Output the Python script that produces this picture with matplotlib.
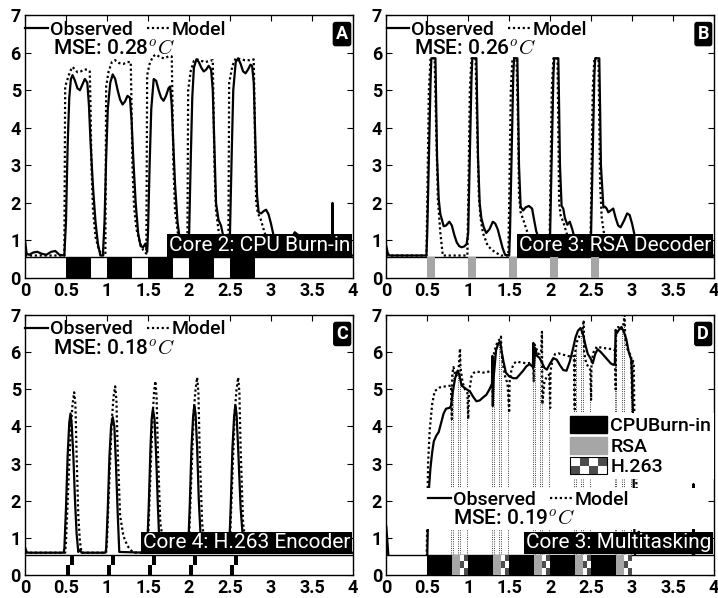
import matplotlib
matplotlib.use("Agg")
import matplotlib.pyplot as plt
from matplotlib.patches import Rectangle, Patch
from matplotlib.lines import Line2D
from matplotlib.legend_handler import HandlerBase
from matplotlib.transforms import blended_transform_factory

plt.rcParams["font.family"] = ["Roboto", "DejaVu Sans"]
plt.rcParams["mathtext.fontset"] = "cm"

# ---- data -------------------------------------------------------------
x_ticks = [0, 0.5, 1, 1.5, 2, 2.5, 3, 3.5, 4]
x_labels = ["0", "0.5", "1", "1.5", "2", "2.5", "3", "3.5", "4"]
y_ticks = [0, 1, 2, 3, 4, 5, 6, 7]

# panel A: core 2, CPU burn-in
obsA_t = [0.00, 0.02, 0.05, 0.10, 0.15, 0.20, 0.26, 0.32, 0.37, 0.42, 0.48,
          0.50, 0.52, 0.54, 0.56, 0.58, 0.61, 0.64, 0.67, 0.70, 0.73, 0.76, 0.78, 0.80, 0.83, 0.86, 0.89, 0.92,
          0.95, 0.97, 0.99, 1.01, 1.04, 1.07, 1.10, 1.13, 1.16, 1.19, 1.22, 1.25, 1.28, 1.30, 1.32, 1.35, 1.38, 1.41, 1.44, 1.47, 1.49,
          1.50, 1.52, 1.54, 1.57, 1.60, 1.63, 1.66, 1.69, 1.72, 1.75, 1.77, 1.79, 1.81, 1.83, 1.86, 1.89, 1.93, 1.97,
          2.00, 2.02, 2.04, 2.06, 2.09, 2.12, 2.15, 2.18, 2.21, 2.24, 2.27, 2.29, 2.31, 2.33, 2.36, 2.39, 2.42, 2.45, 2.48,
          2.50, 2.52, 2.54, 2.57, 2.60, 2.63, 2.66, 2.69, 2.72, 2.75, 2.77, 2.79, 2.81, 2.83, 2.85, 2.88, 2.91, 2.94, 2.97, 3.00, 3.03, 3.06, 3.10, 3.15,
          3.20, 3.25, 3.29, 3.33, 3.40, 3.50, 3.70, 3.745, 3.75, 3.755, 4.00]
obsA_y = [1.00, 0.65, 0.62, 0.68, 0.70, 0.65, 0.62, 0.70, 0.72, 0.62, 0.60,
          1.50, 3.50, 4.80, 5.30, 5.40, 5.25, 5.05, 5.00, 5.15, 5.30, 5.20, 4.60, 3.60, 2.40, 1.50, 0.90, 0.60,
          0.60, 1.50, 3.20, 4.50, 5.20, 5.42, 5.30, 5.00, 4.75, 4.62, 4.70, 4.85, 4.80, 4.20, 3.20, 2.00, 1.20, 0.85, 0.82, 0.92, 0.70,
          1.20, 3.00, 4.50, 5.30, 5.25, 5.00, 4.80, 4.72, 4.85, 5.05, 5.10, 4.60, 3.50, 2.50, 1.50, 1.00, 0.70, 0.60,
          1.00, 3.00, 4.80, 5.60, 5.82, 5.75, 5.60, 5.50, 5.55, 5.65, 5.55, 5.00, 3.50, 2.00, 1.55, 1.40, 1.10, 0.80, 0.70,
          1.20, 3.20, 5.00, 5.75, 5.85, 5.70, 5.50, 5.45, 5.55, 5.68, 5.65, 5.20, 3.60, 2.20, 1.75, 1.72, 1.78, 1.82, 1.70, 1.45, 1.15, 0.90, 0.70, 0.60,
          0.80, 1.05, 1.22, 1.15, 0.90, 0.70, 0.60, 0.60, 2.00, 0.60, 0.60]
modA_t = [0.00, 0.48, 0.49, 0.52, 0.55, 0.58, 0.61, 0.64, 0.68, 0.72, 0.76, 0.79, 0.80, 0.81, 0.83, 0.86, 0.90, 0.94, 0.98,
          0.99, 1.02, 1.06, 1.10, 1.15, 1.20, 1.25, 1.29, 1.30, 1.31, 1.33, 1.36, 1.40, 1.44, 1.48,
          1.49, 1.52, 1.56, 1.60, 1.65, 1.70, 1.75, 1.79, 1.80, 1.81, 1.83, 1.87, 1.92, 1.98,
          1.99, 2.02, 2.06, 2.10, 2.15, 2.20, 2.25, 2.29, 2.30, 2.31, 2.33, 2.37, 2.42, 2.48,
          2.49, 2.53, 2.57, 2.62, 2.68, 2.74, 2.79, 2.80, 2.81, 2.82, 2.84, 2.87, 2.91, 2.96, 3.02, 3.10, 4.00]
modA_y = [0.60, 0.60, 5.10, 5.30, 5.50, 5.62, 5.55, 5.48, 5.50, 5.55, 5.55, 5.50, 4.50, 3.00, 1.80, 1.10, 0.75, 0.62, 0.60,
          5.10, 5.50, 5.75, 5.80, 5.72, 5.70, 5.75, 5.75, 4.50, 3.00, 1.90, 1.30, 0.95, 0.75, 0.65,
          5.40, 5.70, 5.90, 5.95, 5.87, 5.85, 5.90, 5.90, 4.50, 3.00, 1.80, 1.10, 0.75, 0.60,
          5.00, 5.50, 5.78, 5.82, 5.78, 5.75, 5.78, 5.80, 4.50, 3.00, 1.80, 1.10, 0.75, 0.60,
          5.20, 5.65, 5.85, 5.83, 5.80, 5.80, 5.82, 4.50, 3.00, 2.00, 1.72, 1.60, 1.30, 0.95, 0.70, 0.60, 0.60]

# panel B: core 3, RSA decoder
obsB_t = [0.00, 0.02, 0.04, 0.49,
          0.50, 0.52, 0.54, 0.55, 0.60, 0.61, 0.62, 0.64, 0.66, 0.68, 0.70, 0.73, 0.77, 0.80, 0.83, 0.86, 0.89, 0.92, 0.95, 0.98,
          1.00, 1.02, 1.04, 1.05, 1.10, 1.11, 1.12, 1.14, 1.16, 1.19, 1.22, 1.26, 1.30, 1.33, 1.36, 1.39, 1.42, 1.45, 1.50,
          1.51, 1.53, 1.55, 1.56, 1.60, 1.61, 1.62, 1.64, 1.67, 1.70, 1.74, 1.78, 1.80, 1.83, 1.87, 1.92, 1.99,
          2.00, 2.02, 2.04, 2.05, 2.10, 2.11, 2.12, 2.14, 2.16, 2.18, 2.21, 2.24, 2.27, 2.30, 2.35, 2.42, 2.49,
          2.50, 2.52, 2.54, 2.55, 2.60, 2.61, 2.62, 2.65, 2.67, 2.69, 2.71, 2.74, 2.77, 2.80, 2.83, 2.86, 2.90, 2.94, 2.97, 3.00, 3.03, 3.07, 3.12, 4.00]
obsB_y = [0.85, 0.65, 0.60, 0.60,
          1.20, 3.20, 5.20, 5.85, 5.85, 4.50, 3.20, 2.10, 1.70, 1.55, 1.38, 1.40, 1.50, 1.40, 1.15, 0.95, 0.85, 0.82, 0.84, 0.90,
          1.20, 3.30, 5.30, 5.85, 5.85, 4.50, 3.20, 2.00, 1.60, 1.35, 1.20, 1.30, 1.50, 1.45, 1.30, 1.05, 0.80, 0.62, 0.60,
          1.20, 3.30, 5.40, 5.85, 5.85, 4.50, 3.00, 1.90, 1.80, 1.88, 1.92, 1.85, 1.60, 1.25, 1.00, 0.80, 0.70,
          1.20, 3.30, 5.40, 5.85, 5.85, 4.50, 3.00, 1.92, 1.85, 1.60, 1.42, 1.50, 1.30, 1.05, 0.85, 0.75, 0.70,
          1.20, 3.30, 5.40, 5.85, 5.85, 4.50, 3.00, 1.88, 1.90, 1.85, 1.75, 1.80, 1.85, 1.60, 1.40, 1.35, 1.52, 1.72, 1.68, 1.45, 1.15, 0.80, 0.60, 0.60]
modB_t = [0.00, 0.49, 0.50, 0.52, 0.54, 0.59, 0.61, 0.63, 0.66, 0.69,
          0.99, 1.00, 1.02, 1.04, 1.09, 1.11, 1.13, 1.15, 1.18, 1.24, 1.32, 1.40,
          1.49, 1.50, 1.52, 1.54, 1.59, 1.61, 1.62, 1.64, 1.68, 1.74, 1.80, 1.88,
          1.99, 2.00, 2.02, 2.04, 2.09, 2.11, 2.13, 2.16, 2.20, 2.28, 2.40,
          2.49, 2.50, 2.52, 2.54, 2.59, 2.61, 2.63, 2.66, 2.72, 2.80, 4.00]
modB_y = [0.60, 0.60, 2.00, 5.00, 5.85, 5.85, 3.85, 2.10, 1.20, 0.60,
          0.60, 2.00, 5.00, 5.85, 5.85, 3.90, 2.20, 1.60, 1.20, 0.85, 0.70, 0.60,
          0.60, 2.00, 5.00, 5.85, 5.85, 3.90, 2.20, 1.75, 1.50, 1.10, 0.80, 0.60,
          0.60, 2.00, 5.00, 5.85, 5.85, 2.00, 1.65, 1.50, 1.20, 0.80, 0.60,
          0.60, 2.00, 5.00, 5.85, 5.85, 2.50, 1.60, 1.15, 0.80, 0.60, 0.60]

# panel C: core 4, H.263 encoder
obsC_t = [0.00, 0.02, 0.04, 0.47,
          0.48, 0.50, 0.52, 0.54, 0.555, 0.57, 0.59, 0.61, 0.63, 0.65, 0.67, 0.69, 0.98,
          0.99, 1.01, 1.03, 1.05, 1.07, 1.09, 1.11, 1.13, 1.15, 1.48,
          1.49, 1.51, 1.53, 1.545, 1.56, 1.58, 1.60, 1.62, 1.64, 1.98,
          1.99, 2.01, 2.03, 2.05, 2.065, 2.08, 2.10, 2.12, 2.15, 2.48,
          2.49, 2.51, 2.53, 2.55, 2.565, 2.58, 2.60, 2.63, 2.67, 4.00]
obsC_y = [0.75, 0.62, 0.60, 0.60,
          0.70, 1.80, 3.20, 4.10, 4.35, 4.05, 3.20, 2.00, 1.10, 0.62, 0.68, 0.60, 0.60,
          0.70, 1.80, 3.20, 4.00, 4.25, 4.00, 2.95, 1.70, 0.62, 0.60,
          0.70, 1.90, 3.40, 4.20, 4.47, 4.20, 3.20, 1.90, 0.80, 0.60,
          0.70, 1.90, 3.40, 4.25, 4.55, 4.35, 3.40, 2.00, 0.70, 0.60,
          0.70, 1.90, 3.40, 4.25, 4.55, 4.35, 3.40, 1.80, 0.62, 0.60]
modC_t = [0.00, 0.49,
          0.50, 0.53, 0.56, 0.58, 0.60, 0.615, 0.63, 0.65, 0.67, 0.69, 0.99,
          1.00, 1.03, 1.06, 1.08, 1.10, 1.115, 1.13, 1.16, 1.20, 1.25, 1.30, 1.34, 1.49,
          1.50, 1.53, 1.56, 1.575, 1.59, 1.605, 1.62, 1.65, 1.70, 1.99,
          2.00, 2.03, 2.06, 2.08, 2.10, 2.115, 2.13, 2.16, 2.20, 2.49,
          2.50, 2.53, 2.56, 2.58, 2.60, 2.615, 2.63, 2.66, 2.70, 4.00]
modC_y = [0.60, 0.60,
          0.90, 2.50, 4.00, 4.60, 4.92, 4.60, 3.20, 1.60, 0.90, 0.60, 0.60,
          0.90, 2.60, 4.20, 4.80, 5.08, 4.70, 3.40, 1.60, 1.05, 0.78, 0.65, 0.60, 0.60,
          0.90, 2.70, 4.40, 4.95, 5.22, 4.80, 3.40, 1.40, 0.70, 0.60,
          0.90, 2.70, 4.45, 5.00, 5.32, 4.90, 3.40, 1.40, 0.70, 0.60,
          0.90, 2.70, 4.45, 5.00, 5.32, 4.90, 3.40, 1.40, 0.70, 0.60]

# panel D: core 3, multitasking
obsD_t = [0.00, 0.02, 0.04, 0.10, 0.49,
          0.50, 0.51, 0.52, 0.54, 0.56, 0.58, 0.61, 0.64, 0.67, 0.70, 0.73, 0.77, 0.79,
          0.81, 0.84, 0.87, 0.89, 0.92, 0.95, 0.98, 1.02, 1.06, 1.10, 1.14, 1.18, 1.22, 1.26, 1.29,
          1.295, 1.30, 1.31, 1.34, 1.37, 1.39, 1.41, 1.43, 1.46, 1.50, 1.55, 1.59, 1.63, 1.67, 1.71, 1.75, 1.79,
          1.795, 1.80, 1.82, 1.84, 1.87, 1.90, 1.93, 1.96, 2.00, 2.04, 2.08, 2.12, 2.16, 2.20,
          2.24, 2.28, 2.31, 2.34, 2.37, 2.40, 2.43, 2.46, 2.49, 2.52, 2.55, 2.58, 2.62, 2.66, 2.70, 2.74, 2.77, 2.79,
          2.80, 2.81, 2.84, 2.87, 2.90, 2.93, 2.96, 2.99, 3.00, 3.01, 3.02, 3.03, 3.05,
          3.74, 3.75, 3.76, 4.00]
obsD_y = [1.30, 0.70, 0.05, 0.00, 0.00,
          0.50, 1.60, 2.30, 2.90, 3.30, 3.60, 3.75, 3.85, 4.10, 4.35, 4.48, 4.50, 4.55,
          4.90, 5.30, 5.50, 5.40, 5.10, 5.05, 5.00, 4.95, 4.80, 4.68, 4.70, 4.78, 4.85, 5.00, 5.15,
          5.90, 4.55, 5.30, 6.05, 6.25, 6.28, 6.00, 5.75, 5.45, 5.35, 5.30, 5.30, 5.40, 5.50, 5.62, 5.68, 5.60,
          6.25, 5.60, 6.10, 5.90, 5.85, 5.72, 5.58, 5.53, 5.70, 5.84, 5.80, 5.65, 5.52, 5.50,
          5.75, 6.10, 6.40, 6.58, 6.65, 6.50, 6.20, 5.95, 5.85, 5.70, 5.95, 6.08, 6.00, 5.90, 5.80, 5.70, 5.66, 5.70,
          6.60, 6.50, 6.60, 6.68, 6.55, 6.35, 6.00, 5.80, 5.30, 4.40, 2.50, 0.80, 0.00,
          0.00, 2.45, 0.00, 0.00]
modD_t = [0.00, 0.49, 0.50, 0.51, 0.53, 0.56, 0.59, 0.65, 0.72, 0.79,
          0.80, 0.805, 0.82, 0.85, 0.88, 0.90, 0.905, 0.93, 0.96, 0.99, 1.00, 1.01, 1.04, 1.07, 1.10, 1.18, 1.26, 1.29,
          1.30, 1.305, 1.33, 1.36, 1.39, 1.40, 1.405, 1.43, 1.45, 1.48, 1.50, 1.505, 1.53, 1.56, 1.59, 1.65, 1.72, 1.79,
          1.80, 1.805, 1.83, 1.86, 1.89, 1.90, 1.905, 1.93, 1.96, 1.99, 2.00, 2.005, 2.03, 2.06, 2.10, 2.18, 2.25, 2.29,
          2.30, 2.305, 2.33, 2.36, 2.39, 2.41, 2.415, 2.44, 2.47, 2.49, 2.50, 2.505, 2.53, 2.57, 2.63, 2.70, 2.76, 2.79,
          2.80, 2.805, 2.83, 2.86, 2.89, 2.91, 2.915, 2.94, 2.97, 2.99, 3.00, 3.005, 3.02, 3.03, 3.06, 3.10, 3.15, 4.00]
modD_y = [0.00, 0.00, 1.50, 3.00, 3.90, 4.60, 4.95, 5.05, 5.08, 5.10,
          4.20, 5.40, 5.60, 5.35, 5.45, 6.10, 5.60, 5.20, 5.00, 4.90, 4.20, 4.90, 5.35, 5.45, 5.48, 5.45, 5.48, 5.50,
          4.80, 5.88, 6.10, 6.30, 6.35, 6.42, 6.00, 5.60, 5.35, 5.15, 4.37, 5.20, 5.55, 5.70, 5.75, 5.72, 5.70, 5.72,
          5.20, 6.24, 6.10, 5.95, 6.00, 6.55, 4.60, 5.20, 5.35, 5.40, 4.50, 5.50, 5.80, 5.95, 5.97, 5.92, 5.88, 5.90,
          4.46, 6.00, 6.30, 6.45, 6.50, 6.86, 6.00, 5.70, 5.60, 5.53, 4.72, 5.70, 6.00, 6.15, 6.12, 6.10, 6.08, 6.06,
          5.00, 6.50, 6.68, 6.60, 6.70, 7.00, 6.40, 6.10, 5.97, 5.90, 4.72, 5.80, 5.70, 4.00, 2.00, 0.50, 0.00, 0.00]
# task switch markers in D (thin dotted verticals)
switchD_t = [0.79, 0.81, 0.88, 0.90, 0.99, 1.29, 1.31, 1.38, 1.40, 1.49, 1.79, 1.81, 1.88, 1.90, 1.99,
             2.29, 2.31, 2.38, 2.40, 2.49, 2.79, 2.81, 2.88, 2.90, 2.99]
switchD_top = [5.1, 5.6, 5.45, 6.1, 4.9, 5.5, 6.0, 6.35, 6.42, 5.15, 5.72, 6.2, 6.0, 6.55, 5.4,
               5.9, 6.1, 6.5, 6.86, 5.53, 6.06, 6.6, 6.7, 7.0, 5.9]

# task schedule (start times, durations)
cpu_start = [0.5, 1.0, 1.5, 2.0, 2.5]
cpu_dur = 0.3
rsa_start = [0.5, 1.0, 1.5, 2.0, 2.5]
rsa_dur = 0.1
h263_start = [0.5, 1.0, 1.5, 2.0, 2.5]
h263_dur = 0.1
mix_cpu_start = [0.5, 1.0, 1.5, 2.0, 2.5]
mix_rsa_start = [0.8, 1.3, 1.8, 2.3, 2.8]
mix_h263_start = [0.9, 1.4, 1.9, 2.4, 2.9]

panel_letters = ["A", "B", "C", "D"]
core_labels = ["Core 2: CPU Burn-in", "Core 3: RSA Decoder",
               "Core 4: H.263 Encoder", "Core 3: Multitasking"]
mse_values = ["0.28", "0.26", "0.18", "0.19"]

# ---- style --------------------------------------------------------------
STRIP = 0.55
GRAY = "#a6a6a6"
DARK = "#4d4d4d"
FS = 14
DOT = (0, (1, 1.2))


class CheckerHandler(HandlerBase):
    def create_artists(self, legend, orig_handle, xdescent, ydescent,
                       width, height, fontsize, trans):
        arts = []
        cw, ch = width / 4, height / 2
        for i in range(4):
            for j in range(2):
                fc = DARK if (i + j) % 2 == 0 else "white"
                arts.append(Rectangle((-xdescent + i * cw, -ydescent + j * ch), cw, ch,
                                      fc=fc, ec="none", transform=trans))
        arts.append(Rectangle((-xdescent, -ydescent), width, height, fc="none",
                              ec="black", lw=0.8, transform=trans))
        return arts


def setup(ax):
    ax.set_xlim(0, 4)
    ax.set_ylim(0, 7)
    ax.set_xticks(x_ticks)
    ax.set_xticklabels(x_labels)
    ax.set_yticks(y_ticks)
    ax.tick_params(direction="in", top=True, right=True, length=4, width=0.8,
                   labelsize=13)
    ax.tick_params(axis="x", pad=3)
    ax.tick_params(axis="y", pad=3)
    for lab in ax.get_xticklabels() + ax.get_yticklabels():
        lab.set_fontweight("bold")
    for s in ax.spines.values():
        s.set_linewidth(1.0)


def strip(ax):
    ax.add_patch(Rectangle((0, 0), 4, STRIP, fc="white", ec="black", lw=1.0, zorder=3))


def checker(ax, starts, dur, nx, ny, color, dark_parity):
    cw, ch = dur / nx, STRIP / ny
    for s in starts:
        for i in range(nx):
            for j in range(ny):
                if (i + j) % 2 == dark_parity:
                    ax.bar(s + i * cw, ch, width=cw, bottom=j * ch, align="edge",
                           color=color, lw=0, zorder=3.2)


def decorate(ax, k, legend_anchor=(-0.005, 0.945), mse_xy=(0.086, 0.872)):
    handles = [Line2D([], [], color="k", lw=1.6),
               Line2D([], [], color="k", lw=1.6, ls=DOT)]
    leg = ax.legend(handles, ["Observed", "Model"], ncol=2, loc="center left",
                    bbox_to_anchor=legend_anchor, frameon=False,
                    prop={"size": FS, "weight": "medium"},
                    handlelength=1.15, handletextpad=0.1, columnspacing=0.75,
                    borderpad=0.1, borderaxespad=0)
    ax.text(mse_xy[0], mse_xy[1], "MSE: " + mse_values[k] + r"$^oC$",
            transform=ax.transAxes, fontsize=15, fontweight="medium", va="center", zorder=6)
    tr = blended_transform_factory(ax.transAxes, ax.transData)
    ax.text(0.992, STRIP + 0.06, core_labels[k], transform=tr, ha="right", va="bottom",
            color="white", fontsize=15, zorder=7,
            bbox=dict(boxstyle="square,pad=0.08", fc="black", ec="none"))
    ax.text(0.985, 0.962, panel_letters[k], transform=ax.transAxes, ha="right", va="top",
            color="white", fontsize=13, fontweight="bold", zorder=7,
            bbox=dict(boxstyle="round,pad=0.18,rounding_size=0.15", fc="black", ec="none"))
    return leg


fig = plt.figure(figsize=(7.18, 5.98), dpi=100)
axA = fig.add_axes([0.0348, 0.535, 0.4568, 0.4398])
axB = fig.add_axes([0.538, 0.535, 0.4564, 0.4398])
axC = fig.add_axes([0.0348, 0.0385, 0.4568, 0.4346])
axD = fig.add_axes([0.538, 0.0385, 0.4564, 0.4346])

for ax in (axA, axB, axC, axD):
    setup(ax)
    strip(ax)

# A
axA.plot(obsA_t, obsA_y, color="k", lw=1.6, zorder=2)
axA.plot(modA_t, modA_y, color="k", lw=1.6, ls=DOT, zorder=2.1)
axA.broken_barh([(s, cpu_dur) for s in cpu_start], (0, STRIP), facecolors="black", zorder=3.2)
decorate(axA, 0)

# B
axB.plot(obsB_t, obsB_y, color="k", lw=1.6, zorder=2)
axB.plot(modB_t, modB_y, color="k", lw=1.6, ls=DOT, zorder=2.1)
axB.broken_barh([(s, rsa_dur) for s in rsa_start], (0, STRIP), facecolors=GRAY, zorder=3.2)
decorate(axB, 1)

# C
axC.plot(obsC_t, obsC_y, color="k", lw=1.6, zorder=2)
axC.plot(modC_t, modC_y, color="k", lw=1.6, ls=DOT, zorder=2.1)
checker(axC, h263_start, h263_dur, 2, 2, "black", 0)
decorate(axC, 2)

# D
axD.vlines(switchD_t, STRIP, switchD_top, colors="k", lw=0.6, linestyles=":", zorder=1.5)
axD.plot(obsD_t, obsD_y, color="k", lw=1.6, zorder=2)
axD.plot(modD_t, modD_y, color="k", lw=1.6, ls=DOT, zorder=2.1)
axD.broken_barh([(s, cpu_dur) for s in mix_cpu_start], (0, STRIP), facecolors="black", zorder=3.2)
axD.broken_barh([(s, rsa_dur) for s in mix_rsa_start], (0, STRIP), facecolors=GRAY, zorder=3.2)
axD.broken_barh([(s, h263_dur) for s in mix_h263_start], (0, STRIP), facecolors="white", zorder=3.1)
checker(axD, mix_h263_start, h263_dur, 2, 3, DARK, 1)
axD.add_patch(Rectangle((0.47, 1.25), 3.45, 1.08, fc="white", ec="none", zorder=4))
legD = decorate(axD, 3, legend_anchor=(0.122, 0.29), mse_xy=(0.205, 0.217))
axD.add_artist(legD)
checker_handle = Patch(label="H.263")
task_handles = [Patch(fc="black", ec="black"), Patch(fc=GRAY, ec=GRAY), checker_handle]
axD.legend(task_handles, ["CPUBurn-in", "RSA", "H.263"], loc="upper right",
           bbox_to_anchor=(1.0, 4.35 / 7), prop={"size": FS, "weight": "medium"},
           frameon=True, facecolor="white",
           edgecolor="none", framealpha=1, fancybox=False, handlelength=1.9,
           handleheight=0.95, handletextpad=0.15, labelspacing=0.07, borderpad=0.15,
           borderaxespad=0, handler_map={checker_handle: CheckerHandler()})

fig.savefig("out.png", dpi=100)
